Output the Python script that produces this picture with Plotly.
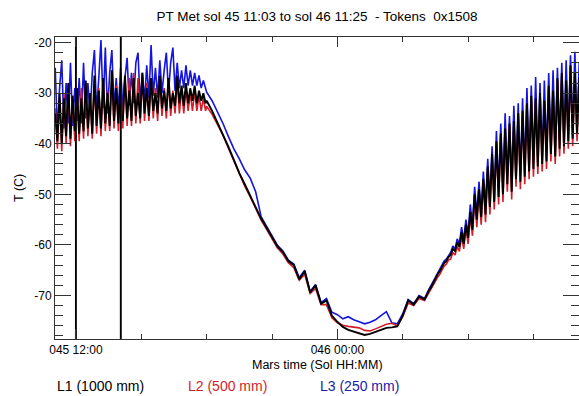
import plotly.graph_objects as go

# ---------------- data (hours since sol 45 00:00, temperature in C) ----------------
# segment A: noisy daytime, 11.05 h .. 17.95 h every 0.1 h
l1_a = [-34, -39.5, -30, -40, -31, -38.5, -28, -39, -30.5, -37.5,
        -29, -38, -31, -37.5, -27.5, -37, -30, -38, -26.5, -36.5,
        -29.5, -37, -27, -36, -30, -36.5, -25.5, -35.5, -29, -36,
        -28, -35.5, -26.5, -35, -29.5, -35.5, -27, -34.5, -30, -35,
        -26, -34, -29, -34.5, -27, -33.5, -30, -34, -26.5, -33,
        -29.5, -33.5, -27, -33, -30, -32.5, -26.5, -32, -28.5, -32.5,
        -28, -32, -29, -31.5, -28.5, -32, -29.5, -31.5, -30, -32]
l2_a = [-33, -41, -31, -41.5, -30, -40, -29, -40.5, -31, -39.5,
        -30, -39.5, -29, -39, -28, -38.5, -30.5, -39, -27.5, -38,
        -29, -38.5, -27.5, -37.5, -29.5, -37.5, -27, -37, -28.5, -37.5,
        -27.5, -37, -26.5, -36.5, -27, -36.5, -26, -36, -27, -36,
        -26.5, -35.5, -28, -35.5, -27, -35, -29, -35.5, -27, -34.5,
        -29, -35, -27.5, -34.5, -29.5, -34, -27.5, -34, -29, -34,
        -29, -33.5, -30, -33.5, -29.5, -33.5, -30.5, -33.5, -31, -33.5]
l3_a = [-25, -38, -29, -23.5, -37, -28, -36, -24, -36.5, -29,
        -35.5, -27, -36, -24, -35, -28, -34.5, -26, -21.5, -34,
        -27, -19.5, -33, -21, -34, -26, -21.5, -33, -27, -33.5,
        -25, -33, -27, -23, -32.5, -26, -32, -24, -22, -32,
        -26, -31.5, -24.5, -31, -20.5, -30.5, -25, -31, -23.5, -30,
        -25.5, -22, -30, -24, -21, -29.5, -24, -29, -25.5, -29,
        -24.5, -28.5, -25.5, -28.5, -26, -28.5, -26.5, -29, -27.5, -29.5]

# segment B: evening decline and night, 18.0 h .. 28.0 h every 0.25 h
l1_b = [-31.5, -33.5, -35.8, -38.0, -40.6, -43.2, -45.8, -48.0, -50.2, -52.4,
        -54.8, -56.6, -58.4, -60.3, -61.4, -63.2, -64.0, -66.8, -65.2, -69.4,
        -68.0, -71.6, -71.0, -74.0, -75.2, -76.2, -76.8, -77.1, -77.4, -77.8,
        -77.6, -77.2, -76.7, -76.4, -76.3, -76.1, -74.0, -71.0, -71.8, -70.2,
        -70.8]
l2_b = [-32.6, -34.2, -36.2, -38.3, -40.9, -43.5, -46.1, -48.4, -50.5, -52.7,
        -55.1, -56.9, -58.7, -60.6, -61.8, -63.5, -64.5, -67.0, -65.8, -69.6,
        -68.6, -71.8, -71.8, -74.4, -75.4, -75.9, -76.1, -76.3, -76.4, -76.9,
        -77.0, -76.6, -76.1, -75.7, -75.5, -76.0, -74.2, -71.5, -72.0, -70.6,
        -71.0]
l3_b = [-29.8, -31.5, -33.6, -36.0, -38.6, -41.0, -43.0, -45.2, -46.8, -49.5,
        -54.4, -56.4, -58.2, -60.1, -61.2, -63.0, -63.8, -66.5, -65.0, -69.2,
        -67.8, -71.4, -70.6, -73.3, -73.8, -74.6, -74.2, -74.8, -75.2, -75.6,
        -75.3, -74.8, -74.0, -73.2, -75.4, -75.6, -73.6, -70.8, -71.6, -70.0,
        -70.6]

# segment C: morning warm-up, 28.1 h .. 35.1 h every 0.1 h
l1_c = [-69.8, -69.0, -68.4, -67.5, -66.8, -65.8, -65.2, -64.5, -63.6, -63.2,
        -62.4, -62.0, -60.8, -61.2, -59.5, -60.4, -57.5, -59.8, -56.0, -58.6,
        -53.5, -57.0, -50.0, -55.0, -49.0, -54.5, -47.0, -54.0, -44.5, -52.5,
        -42.0, -51.5, -39.5, -50.5, -38.0, -50.0, -37.0, -48.0, -36.0, -49.5,
        -35.5, -47.0, -34.0, -47.5, -33.5, -46.5, -32.0, -45.5, -30.5, -45.0,
        -31.0, -44.5, -30.0, -44.0, -31.5, -43.5, -28.5, -42.0, -29.5, -42.5,
        -27.0, -41.0, -26.0, -40.5, -27.5, -39.5, -24.5, -39.0, -26.0, -38.0,
        -27.0]
l2_c = [-70.2, -69.5, -68.9, -68.0, -67.3, -66.4, -65.8, -65.1, -64.2, -63.8,
        -63.0, -62.8, -61.5, -62.0, -60.3, -61.3, -58.3, -60.8, -56.8, -59.8,
        -54.3, -58.2, -51.0, -56.5, -49.5, -56.0, -47.5, -55.5, -45.0, -54.0,
        -42.5, -53.0, -40.0, -52.0, -38.5, -51.5, -37.5, -49.5, -36.5, -51.0,
        -36.0, -48.5, -34.5, -49.0, -34.0, -48.0, -32.5, -47.0, -31.0, -46.5,
        -31.5, -46.0, -30.5, -45.5, -32.0, -45.0, -29.0, -43.5, -30.0, -44.0,
        -27.5, -42.5, -26.5, -42.0, -28.0, -41.0, -25.0, -40.5, -26.5, -39.5,
        -27.5]
l3_c = [-69.5, -68.8, -68.0, -67.2, -66.5, -65.5, -64.8, -64.0, -63.2, -62.8,
        -62.0, -61.5, -60.2, -60.8, -58.8, -59.8, -56.5, -59.0, -55.0, -57.8,
        -52.0, -56.2, -48.5, -54.0, -47.5, -53.5, -45.5, -52.5, -43.0, -51.0,
        -40.5, -50.0, -37.5, -49.0, -36.0, -48.5, -34.0, -46.5, -34.5, -47.5,
        -32.5, -45.5, -32.0, -46.0, -31.0, -45.0, -29.0, -44.0, -28.5, -43.5,
        -26.8, -43.0, -28.0, -42.5, -27.5, -42.0, -26.0, -40.5, -25.5, -41.0,
        -25.0, -39.5, -24.0, -39.0, -23.5, -38.0, -22.5, -37.5, -21.8, -36.5,
        -24.0]

# L1 sensor dropouts (off-scale spikes)
l1_dropout_hours = [12.0, 14.06]

hours_a = [round(11.05 + 0.1 * i, 3) for i in range(len(l1_a))]
hours_b = [round(18.0 + 0.25 * i, 3) for i in range(len(l1_b))]
hours_c = [round(28.1 + 0.1 * i, 3) for i in range(len(l1_c))]
hours = hours_a + hours_b + hours_c

l1 = l1_a + l1_b + l1_c
l2 = l2_a + l2_b + l2_c
l3 = l3_a + l3_b + l3_c

# insert dropout spikes into L1 (break the line around each spike)
pts = list(zip(hours, l1))
for h in l1_dropout_hours:
    pts.append((h - 2e-4, None))
    pts.append((h - 1e-4, 80.0))
    pts.append((h, -180.0))
    pts.append((h + 1e-4, None))
pts.sort(key=lambda p: p[0])
l1_x = [p[0] for p in pts]
l1_y = [p[1] for p in pts]

x_tickvals = [12, 24]
x_ticktext = ["045 12:00", "046 00:00"]
y_tickvals = [-70, -60, -50, -40, -30, -20]
y_ticktext = ["-70", "-60", "-50", "-40", "-30", "-20"]

BLUE = "#1414e0"
RED = "#d21e28"
FONT = "Liberation Sans, Arial, Helvetica, sans-serif"

fig = go.Figure()
fig.add_trace(go.Scatter(x=hours, y=l3, mode="lines", line=dict(color=BLUE, width=1.6), name="L3"))
fig.add_trace(go.Scatter(x=hours, y=l2, mode="lines", line=dict(color=RED, width=1.6), name="L2"))
fig.add_trace(go.Scatter(x=l1_x, y=l1_y, mode="lines", connectgaps=False,
                         line=dict(color="black", width=1.9), name="L1"))

axis_common = dict(
    showline=True, linecolor="#333", linewidth=1, mirror="ticks",
    ticks="inside", tickcolor="#333", showgrid=False, zeroline=False,
    tickfont=dict(family=FONT, size=12, color="black"),
)

fig.update_xaxes(
    range=[11.04, 35.09], tickvals=x_tickvals, ticktext=x_ticktext,
    ticklen=10, tickwidth=1,
    minor=dict(dtick=3, tick0=0, ticks="inside", ticklen=5, tickcolor="#333", showgrid=False),
    **axis_common,
)
fig.update_yaxes(
    range=[-78.6, -18.9], tickvals=y_tickvals, ticktext=y_ticktext,
    ticklen=16, tickwidth=1,
    minor=dict(dtick=2, tick0=0, ticks="inside", ticklen=8, tickcolor="#333", showgrid=False),
    **axis_common,
)

PH = 339.3 - 36.7


def ypaper(py):
    return -(py - 339.3) / PH


fig.update_layout(
    width=579, height=396,
    margin=dict(l=55, r=0, t=37, b=57),
    paper_bgcolor="white", plot_bgcolor="white",
    showlegend=False,
    font=dict(family=FONT, size=12, color="black"),
    title=dict(text="PT Met sol 45 11:03 to sol 46 11:25  - Tokens  0x1508",
               x=0.5, xref="paper", y=1 - 16.5 / 396, yref="container",
               yanchor="middle", xanchor="center",
               font=dict(family=FONT, size=13.5, color="black")),
    annotations=[
        dict(text="Mars time (Sol HH:MM)", xref="paper", yref="paper",
             x=0.5, y=ypaper(365), xanchor="center", yanchor="middle",
             showarrow=False, font=dict(family=FONT, size=12.5, color="black")),
        dict(text="T (C)", xref="paper", yref="paper", textangle=-90,
             x=(19 - 55) / 524, y=0.5, xanchor="center", yanchor="middle",
             showarrow=False, font=dict(family=FONT, size=12.5, color="black")),
        dict(text="L1 (1000 mm)", xref="paper", yref="paper",
             x=0.0, y=ypaper(386), xanchor="left", yanchor="middle",
             showarrow=False, font=dict(family=FONT, size=14, color="black")),
        dict(text="L2 (500 mm)", xref="paper", yref="paper",
             x=(186 - 55) / 524, y=ypaper(386), xanchor="left", yanchor="middle",
             showarrow=False, font=dict(family=FONT, size=14, color=RED)),
        dict(text="L3 (250 mm)", xref="paper", yref="paper",
             x=(318 - 55) / 524, y=ypaper(386), xanchor="left", yanchor="middle",
             showarrow=False, font=dict(family=FONT, size=14, color="#1a1aa8")),
    ],
)

fig.write_html("out.html")
